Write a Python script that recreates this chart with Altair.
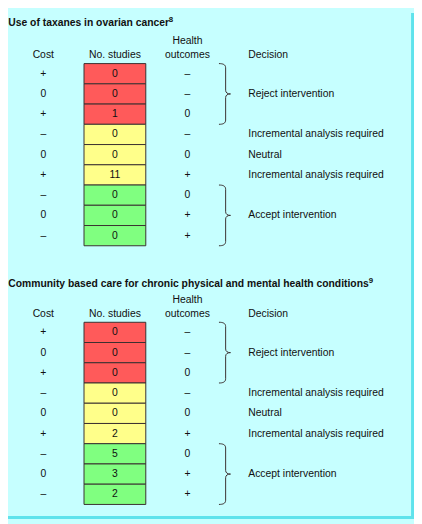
import altair as alt
import pandas as pd

# ---------------- data ----------------
TITLES = [
    "Use of taxanes in ovarian cancer",
    "Community based care for chronic physical and mental health conditions",
]
REFERENCE_MARKS = ["8", "9"]
HEADER_LINES = [["Cost"], ["No. studies"], ["Health", "outcomes"], ["Decision"]]
COST = ["+", "0", "+", "\u2013", "0", "+", "\u2013", "0", "\u2013"]
HEALTH = ["\u2013", "\u2013", "0", "\u2013", "0", "+", "0", "+", "+"]
STUDIES_TAXANES = [0, 0, 1, 0, 0, 11, 0, 0, 0]
STUDIES_COMMUNITY = [0, 0, 0, 0, 0, 2, 5, 3, 2]
ZONES = ["Reject", "Reject", "Reject", "Uncertain", "Uncertain", "Uncertain",
         "Accept", "Accept", "Accept"]
ROW_DECISIONS = ["", "", "", "Incremental analysis required", "Neutral",
                 "Incremental analysis required", "", "", ""]
GROUP_DECISIONS = ["Reject intervention", "Accept intervention"]
GROUP_MID_ROWS = [1, 7]

# ---------------- style / layout ----------------
ZONE_DOMAIN = ["Reject", "Uncertain", "Accept"]
ZONE_COLORS = ["#ff5a5a", "#ffff8a", "#80ff80"]
BG = "#c6ffff"
BORDER = "#5fe3ec"
INK = "#111111"
BOX_STROKE = "#3a3030"
FONT = "Liberation Sans"
FS = 10.6
TFS = 10.55
SUPFS = 8

W, H = 414, 516
X_DOMAIN = [8, 422]          # horizontal layout units
Y_DOMAIN = [-2.5, 22.5]      # vertical layout in table-row units
ROW_PX = H / (Y_DOMAIN[1] - Y_DOMAIN[0])
SECTION_OFFSET = [0.0, 12.78]
TITLE_ROW = [-1.87, -1.73]
SUP_RAISE = 4 / ROW_PX
HEADER_ROW = -0.27
HEADER_LINE = 0.70
COL_X = {"Cost": 44, "No. studies": 117, "Health": 191, "Brace": 229, "Decision": 253}
TITLE_X = 8.3
SUP_X = [171.8, 375.8]
BOX_LEFT, BOX_RIGHT = 85.5, 148.5
BRACE_PATH = ("M-0.19,-1 C-0.06,-1 0.03,-0.97 0.03,-0.86 L0.03,-0.12 "
              "C0.03,-0.04 0.09,0 0.19,0 C0.09,0 0.03,0.04 0.03,0.12 "
              "L0.03,0.86 C0.03,0.97 -0.06,1 -0.19,1")
BRACE_SIZE = (3 * ROW_PX) ** 2

# ---------------- build tables ----------------
cells, mid_c, mid_l, hdr_c, hdr_l, titles, sups, braces = [], [], [], [], [], [], [], []
for s, studies in enumerate([STUDIES_TAXANES, STUDIES_COMMUNITY]):
    off = SECTION_OFFSET[s]
    titles.append({"x": TITLE_X, "y": off + TITLE_ROW[s], "t": TITLES[s]})
    sups.append({"x": SUP_X[s], "y": off + TITLE_ROW[s] - SUP_RAISE, "t": REFERENCE_MARKS[s]})
    cols = ["Cost", "No. studies", "Health", "Decision"]
    for col, lines in zip(cols, HEADER_LINES):
        n = len(lines)
        for k, line in enumerate(lines):
            rec = {"x": COL_X[col], "y": off + HEADER_ROW - (n - 1 - k) * HEADER_LINE, "t": line}
            (hdr_l if col == "Decision" else hdr_c).append(rec)
    for i in range(9):
        cells.append({"x": BOX_LEFT, "x2": BOX_RIGHT, "y": off + i, "y2": off + i + 1,
                      "zone": ZONES[i], "n": studies[i]})
        cy = off + i + 0.5
        mid_c.append({"x": COL_X["Cost"], "y": cy, "t": COST[i]})
        mid_c.append({"x": COL_X["No. studies"], "y": cy, "t": str(studies[i])})
        mid_c.append({"x": COL_X["Health"], "y": cy, "t": HEALTH[i]})
        if ROW_DECISIONS[i]:
            mid_l.append({"x": COL_X["Decision"], "y": cy, "t": ROW_DECISIONS[i]})
    for g, r in zip(GROUP_DECISIONS, GROUP_MID_ROWS):
        mid_l.append({"x": COL_X["Decision"], "y": off + r + 0.5, "t": g})
        braces.append({"x": COL_X["Brace"], "y": off + r + 0.5})

xs = alt.Scale(domain=X_DOMAIN, nice=False, zero=False)
ys = alt.Scale(domain=Y_DOMAIN, nice=False, zero=False, reverse=True)
X = alt.X("x:Q", scale=xs, axis=None)
Y = alt.Y("y:Q", scale=ys, axis=None)


def text_layer(rows, align, baseline, size=FS, weight="normal"):
    return alt.Chart(pd.DataFrame(rows)).mark_text(
        align=align, baseline=baseline, font=FONT, fontSize=size,
        fontWeight=weight, color=INK
    ).encode(x=X, y=Y, text="t:N")


box_layer = alt.Chart(pd.DataFrame(cells)).mark_rect(
    stroke=BOX_STROKE, strokeWidth=1
).encode(
    x=X, x2="x2:Q", y=Y, y2="y2:Q",
    color=alt.Color("zone:N", scale=alt.Scale(domain=ZONE_DOMAIN, range=ZONE_COLORS), legend=None),
)

brace_layer = alt.Chart(pd.DataFrame(braces)).mark_point(
    shape=BRACE_PATH, size=BRACE_SIZE, filled=False, color=BOX_STROKE,
    strokeWidth=1, opacity=1
).encode(x=X, y=Y)

frame = pd.DataFrame({"k": [0]})
right_border = alt.Chart(frame).mark_rule(color=BORDER, strokeWidth=3).encode(
    x=alt.value(W - 1.5), y=alt.value(0), y2=alt.value(H))
bottom_border = alt.Chart(frame).mark_rule(color=BORDER, strokeWidth=3).encode(
    x=alt.value(0), x2=alt.value(W), y=alt.value(H - 1.5))

chart = alt.layer(
    box_layer,
    text_layer(mid_c, "center", "middle"),
    text_layer(mid_l, "left", "middle"),
    text_layer(hdr_c, "center", "alphabetic"),
    text_layer(hdr_l, "left", "alphabetic"),
    text_layer(titles, "left", "alphabetic", size=TFS, weight="bold"),
    text_layer(sups, "left", "alphabetic", size=SUPFS, weight="bold"),
    brace_layer,
    right_border,
    bottom_border,
).properties(
    width=W, height=H, autosize="none", padding=0, background=BG
).configure_view(stroke=None)

chart.save("out.html", embed_options={"renderer": "svg", "actions": False})
